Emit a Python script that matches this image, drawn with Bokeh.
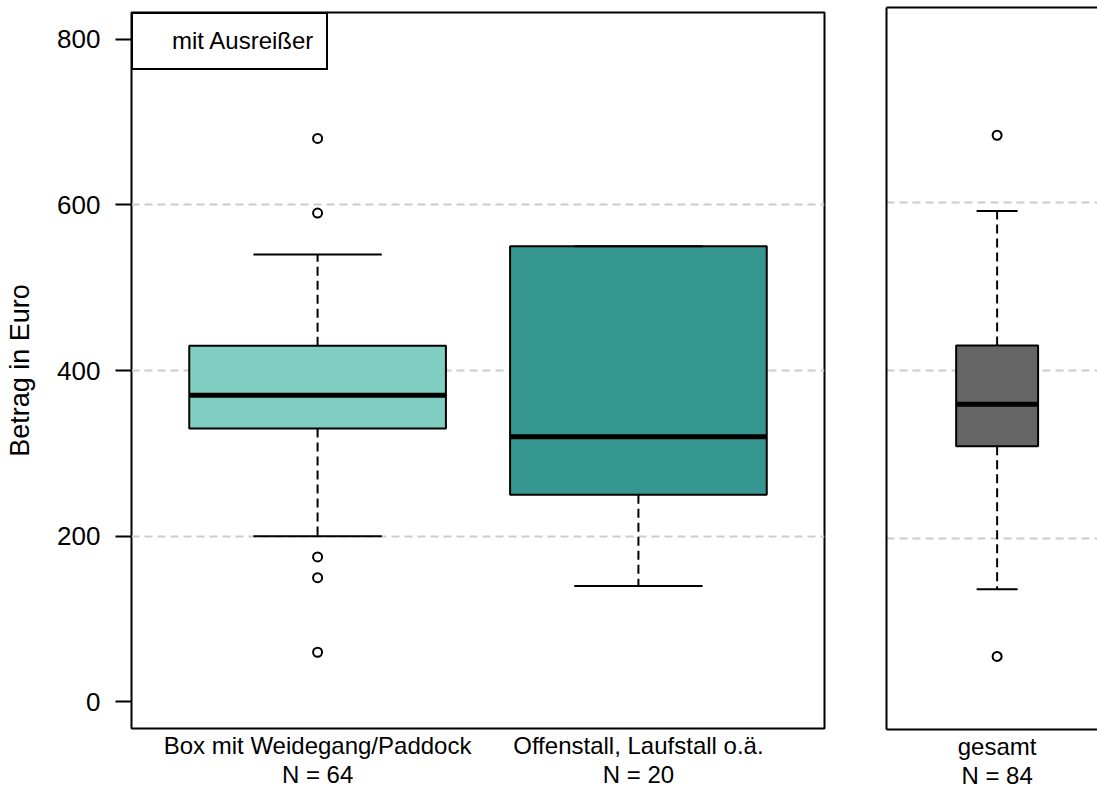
from bokeh.plotting import figure
from bokeh.models import FixedTicker, Range1d, LinearAxis, Legend, LegendItem
from bokeh.layouts import row
from bokeh.embed import file_html
from bokeh.resources import INLINE

# ---------------- data ----------------
categories = ["Box mit Weidegang/Paddock", "Offenstall, Laufstall o.ä."]
counts = [64, 20]
lower_whisker = [200, 140]
q1 = [330, 250]
median = [370, 320]
q3 = [430, 550]
upper_whisker = [540, 550]
outliers = [[680, 590, 175, 150, 60], []]
box_colors = ["#80CDC1", "#35978F"]

total_category = ["gesamt"]
total_count = [84]
total_lower_whisker = [140]
total_q1 = [310]
total_median = [360]
total_q3 = [430]
total_upper_whisker = [590]
total_outliers = [[680, 60]]
total_colors = ["#666666"]

y_ticks = [0, 200, 400, 600, 800]
grid_ticks = [200, 400, 600]
y_label = "Betrag in Euro"
legend_label = "mit Ausreißer"

FONT = "Liberation Sans"


def draw_boxes(p, cats, ns, lo, a, m, b, hi, outs, cols, box_w, cap_w):
    xs = [i + 1 for i in range(len(cats))]
    # whiskers
    p.segment(x0=xs, y0=b, x1=xs, y1=hi, line_color="black", line_width=2, line_dash="9 5")
    p.segment(x0=xs, y0=a, x1=xs, y1=lo, line_color="black", line_width=2, line_dash="9 5")
    # boxes
    p.vbar(x=xs, width=box_w, bottom=a, top=b, fill_color=cols,
           line_color="black", line_width=2)
    # medians
    p.segment(x0=[x - box_w / 2 for x in xs], y0=m, x1=[x + box_w / 2 for x in xs], y1=m,
              line_color="black", line_width=5)
    # caps
    p.segment(x0=[x - cap_w / 2 for x in xs], y0=hi, x1=[x + cap_w / 2 for x in xs], y1=hi,
              line_color="black", line_width=2)
    p.segment(x0=[x - cap_w / 2 for x in xs], y0=lo, x1=[x + cap_w / 2 for x in xs], y1=lo,
              line_color="black", line_width=2)
    # outliers
    ox = [xs[i] for i, o in enumerate(outs) for _ in o]
    oy = [v for o in outs for v in o]
    p.scatter(x=ox, y=oy, size=9, marker="circle", fill_color="white",
              line_color="black", line_width=2)
    xa = p.below[0]
    xa.ticker = FixedTicker(ticks=xs)
    xa.major_label_overrides = {x: f"{c}\nN = {n}" for x, c, n in zip(xs, cats, ns)}


def style_common(p):
    p.frame_align = False
    p.background_fill_color = "white"
    p.border_fill_color = "white"
    p.xgrid.visible = False
    p.ygrid.ticker = FixedTicker(ticks=grid_ticks)
    p.ygrid.grid_line_color = "#cccccc"
    p.ygrid.grid_line_width = 1.8
    p.ygrid.grid_line_dash = "8 5"
    xa = p.below[0]
    xa.major_tick_line_color = None
    xa.minor_tick_line_color = None
    xa.major_label_text_font = FONT
    xa.major_label_text_font_size = "24px"
    xa.major_label_text_line_height = 1.1
    xa.major_label_text_color = "black"
    xa.major_label_standoff = -3


# ---------------- left panel ----------------
p1 = figure(width=848, height=792, x_range=Range1d(0.42, 2.58), y_range=Range1d(-32, 832),
            output_backend="svg", toolbar_location=None,
            min_border_left=131, min_border_right=24, min_border_top=12, min_border_bottom=64)
style_common(p1)
p1.outline_line_color = "black"
p1.outline_line_width = 2
p1.outline_line_alpha = 1
p1.xaxis.axis_line_color = None
p1.yaxis.axis_line_color = None
p1.yaxis.ticker = FixedTicker(ticks=y_ticks)
p1.yaxis.minor_tick_line_color = None
p1.yaxis.major_tick_in = 0
p1.yaxis.major_tick_out = 16
p1.yaxis.major_tick_line_width = 2
p1.yaxis.major_tick_line_color = "black"
p1.yaxis.major_label_text_font = FONT
p1.yaxis.major_label_text_font_size = "26px"
p1.yaxis.major_label_text_color = "black"
p1.yaxis.major_label_standoff = 15
p1.yaxis.axis_label = y_label
p1.yaxis.axis_label_text_font = FONT
p1.yaxis.axis_label_text_font_size = "27px"
p1.yaxis.axis_label_text_font_style = "normal"
p1.yaxis.axis_label_text_color = "black"
p1.yaxis.axis_label_standoff = 19

draw_boxes(p1, categories, counts, lower_whisker, q1, median, q3, upper_whisker,
           outliers, box_colors, 0.8, 0.4)

dummy = p1.line(x=[], y=[], line_alpha=0)
legend = Legend(items=[LegendItem(label=legend_label, renderers=[dummy])],
                location="top_left", margin=0, padding=13, spacing=0,
                glyph_width=21, glyph_height=20, label_standoff=5,
                border_line_color="black", border_line_width=2, border_line_alpha=1,
                background_fill_color="white", background_fill_alpha=1,
                label_text_font=FONT, label_text_font_size="24px", label_text_color="black")
p1.add_layout(legend)

# ---------------- right panel ----------------
p2 = figure(width=249, height=792, x_range=Range1d(0.46, 1.49), y_range=Range1d(-27, 832),
            output_backend="svg", toolbar_location=None,
            min_border_left=38, min_border_right=0, min_border_top=7, min_border_bottom=60)
style_common(p2)
p2.outline_line_color = None
p2.xaxis.axis_line_color = "black"
p2.xaxis.axis_line_width = 2
p2.yaxis.ticker = FixedTicker(ticks=[])
p2.yaxis.major_tick_line_color = None
p2.yaxis.minor_tick_line_color = None
p2.yaxis.axis_line_color = "black"
p2.yaxis.axis_line_width = 2

draw_boxes(p2, total_category, total_count, total_lower_whisker, total_q1, total_median,
           total_q3, total_upper_whisker, total_outliers, total_colors, 0.4, 0.2)

top_axis = LinearAxis(ticker=FixedTicker(ticks=[]), axis_line_color="black", axis_line_width=2,
                      major_tick_line_color=None, minor_tick_line_color=None,
                      major_label_standoff=0)
p2.add_layout(top_axis, "above")

layout = row(p1, p2)
open("out.html", "w").write(file_html(layout, INLINE))
